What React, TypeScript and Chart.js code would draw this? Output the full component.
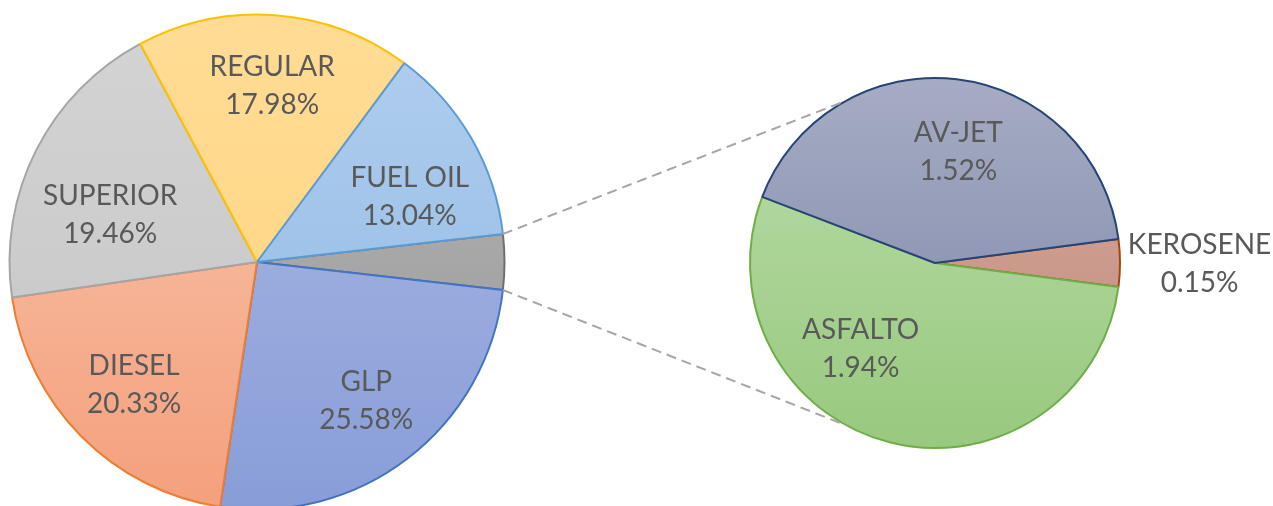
import React, { useEffect, useRef } from 'react';
import { Chart, registerables } from 'chart.js';

Chart.register(...registerables);

// ---- data ----
const mainCategories = ['GLP', 'DIESEL', 'SUPERIOR', 'REGULAR', 'FUEL OIL'];
const mainValues = [25.58, 20.33, 19.46, 17.98, 13.04];
const secondaryCategories = ['KEROSENE', 'ASFALTO', 'AV-JET'];
const secondaryValues = [0.15, 1.94, 1.52];
const otherLabel = 'OTROS';

// ---- layout / styles ----
const W = 1273;
const H = 506;
const CH = 530;
const FONT_SIZE = 28;
const FONT = `${FONT_SIZE}px Lato, "Open Sans", sans-serif`;
const CAP = 0.72 * FONT_SIZE;
const LINE_GAP = 38;
const TEXT_COLOR = '#595959';

const styles: Record<string, { top: string; bottom: string; border: string }> = {
  GLP: { top: '#AEBBE4', bottom: '#889DD8', border: '#4472C4' },
  DIESEL: { top: '#F8C8B2', bottom: '#F4A07C', border: '#ED7D31' },
  SUPERIOR: { top: '#D4D4D4', bottom: '#C4C4C4', border: '#A5A5A5' },
  REGULAR: { top: '#FFDC95', bottom: '#FFD37C', border: '#FFC000' },
  'FUEL OIL': { top: '#B2CFEE', bottom: '#8CB6E4', border: '#5B9BD5' },
  OTROS: { top: '#B8B8B8', bottom: '#959595', border: '#6F6F6F' },
  'AV-JET': { top: '#A6ACC3', bottom: '#7A84A8', border: '#264478' },
  ASFALTO: { top: '#BBDCAB', bottom: '#98C97E', border: '#70AD47' },
  KEROSENE: { top: '#D7AC9F', bottom: '#C0887A', border: '#9E480E' },
};

const labelPlacement: Record<string, { r: number; da: number }> = {
  GLP: { r: 0.71, da: -1 },
  DIESEL: { r: 0.7, da: 0 },
  SUPERIOR: { r: 0.625, da: -8.5 },
  REGULAR: { r: 0.72, da: 0.7 },
  'FUEL OIL': { r: 0.673, da: 6.5 },
  'AV-JET': { r: 0.62, da: 5 },
  ASFALTO: { r: 0.61, da: 27 },
  KEROSENE: { r: 1.43, da: 0 },
};

const CONNECTOR_ANGLE = 118.7; // degrees from +x on secondary pie

function gradientFill(ctx: any) {
  const chart = ctx.chart;
  const area = chart.chartArea;
  const name = chart.data.labels[ctx.dataIndex] as string;
  const s = styles[name];
  if (!s) return '#cccccc';
  if (!area) return s.top;
  const g = chart.ctx.createLinearGradient(0, area.top, 0, area.bottom);
  g.addColorStop(0, s.top);
  g.addColorStop(1, s.bottom);
  return g;
}

function borderFill(ctx: any) {
  const name = ctx.chart.data.labels[ctx.dataIndex] as string;
  return styles[name] ? styles[name].border : '#888888';
}

const labelPlugin = {
  id: 'sliceLabels',
  afterDatasetsDraw(chart: any) {
    const meta = chart.getDatasetMeta(0);
    const labels = chart.data.labels as string[];
    const values = chart.data.datasets[0].data as number[];
    const ctx = chart.ctx;
    ctx.save();
    ctx.font = FONT;
    ctx.fillStyle = TEXT_COLOR;
    ctx.textAlign = 'center';
    ctx.textBaseline = 'alphabetic';
    meta.data.forEach((arc: any, i: number) => {
      const name = labels[i];
      const p = labelPlacement[name];
      if (!p) return;
      const { x, y, startAngle, endAngle, outerRadius } = arc.getProps(
        ['x', 'y', 'startAngle', 'endAngle', 'outerRadius'],
        true
      );
      const a = (startAngle + endAngle) / 2 + (p.da * Math.PI) / 180;
      const rr = p.r * outerRadius;
      const cx = x + rr * Math.cos(a);
      const cy = y + rr * Math.sin(a);
      ctx.fillText(name, cx, cy - LINE_GAP / 2 + CAP / 2);
      ctx.fillText(values[i].toFixed(2) + '%', cx, cy + LINE_GAP / 2 + CAP / 2);
    });
    ctx.restore();
  },
};

export default function App() {
  const mainRef = useRef<HTMLCanvasElement>(null);
  const secRef = useRef<HTMLCanvasElement>(null);

  useEffect(() => {
    if (!mainRef.current || !secRef.current) return;
    const otherValue = secondaryValues.reduce((s, v) => s + v, 0);
    const totalMain = otherValue + mainValues.reduce((s, v) => s + v, 0);
    const mainLabels = [otherLabel, ...mainCategories];
    const mainData = [otherValue, ...mainValues];
    const mainRotation = 90 - ((otherValue / totalMain) * 360) / 2;

    const secTotal = otherValue;
    const secRotation = 90 - ((secondaryValues[0] / secTotal) * 360) / 2;

    const mainChart = new Chart(mainRef.current, {
      type: 'pie',
      data: {
        labels: mainLabels,
        datasets: [
          {
            data: mainData,
            backgroundColor: gradientFill as any,
            borderColor: borderFill as any,
            borderWidth: 2,
          },
        ],
      },
      options: {
        responsive: false,
        animation: false,
        rotation: mainRotation,
        layout: { padding: { left: 8.5, top: 13.5, right: W - 8.5 - 497, bottom: CH - 13.5 - 497 } },
        plugins: { legend: { display: false }, tooltip: { enabled: false } },
      },
      plugins: [labelPlugin],
    });

    const connectorPlugin = {
      id: 'connectors',
      afterDraw(chart: any) {
        const arc: any = mainChart.getDatasetMeta(0).data[0];
        const sec: any = chart.getDatasetMeta(0).data[0];
        if (!arc || !sec) return;
        const m = arc.getProps(['x', 'y', 'startAngle', 'endAngle', 'outerRadius'], true);
        const s = sec.getProps(['x', 'y', 'outerRadius'], true);
        const t = (CONNECTOR_ANGLE * Math.PI) / 180;
        const ctx = chart.ctx;
        ctx.save();
        ctx.strokeStyle = '#A6A6A6';
        ctx.lineWidth = 2;
        ctx.setLineDash([10, 6]);
        ctx.beginPath();
        ctx.moveTo(m.x + m.outerRadius * Math.cos(m.startAngle), m.y + m.outerRadius * Math.sin(m.startAngle));
        ctx.lineTo(s.x + s.outerRadius * Math.cos(-t), s.y + s.outerRadius * Math.sin(-t));
        ctx.moveTo(m.x + m.outerRadius * Math.cos(m.endAngle), m.y + m.outerRadius * Math.sin(m.endAngle));
        ctx.lineTo(s.x + s.outerRadius * Math.cos(t), s.y + s.outerRadius * Math.sin(t));
        ctx.stroke();
        ctx.restore();
      },
    };

    const secChart = new Chart(secRef.current, {
      type: 'pie',
      data: {
        labels: secondaryCategories,
        datasets: [
          {
            data: secondaryValues,
            backgroundColor: gradientFill as any,
            borderColor: borderFill as any,
            borderWidth: 2,
          },
        ],
      },
      options: {
        responsive: false,
        animation: false,
        rotation: secRotation,
        layout: { padding: { left: 749, top: 77, right: W - 749 - 372, bottom: CH - 77 - 372 } },
        plugins: { legend: { display: false }, tooltip: { enabled: false } },
      },
      plugins: [labelPlugin, connectorPlugin],
    });

    return () => {
      secChart.destroy();
      mainChart.destroy();
    };
  }, []);

  return (
    <div
      style={{
        position: 'absolute',
        left: 0,
        top: 0,
        width: W,
        height: H,
        overflow: 'hidden',
        background: '#FFFFFF',
      }}
    >
      <canvas ref={mainRef} width={W} height={CH} style={{ position: 'absolute', left: 0, top: 0 }} />
      <canvas ref={secRef} width={W} height={CH} style={{ position: 'absolute', left: 0, top: 0 }} />
    </div>
  );
}
